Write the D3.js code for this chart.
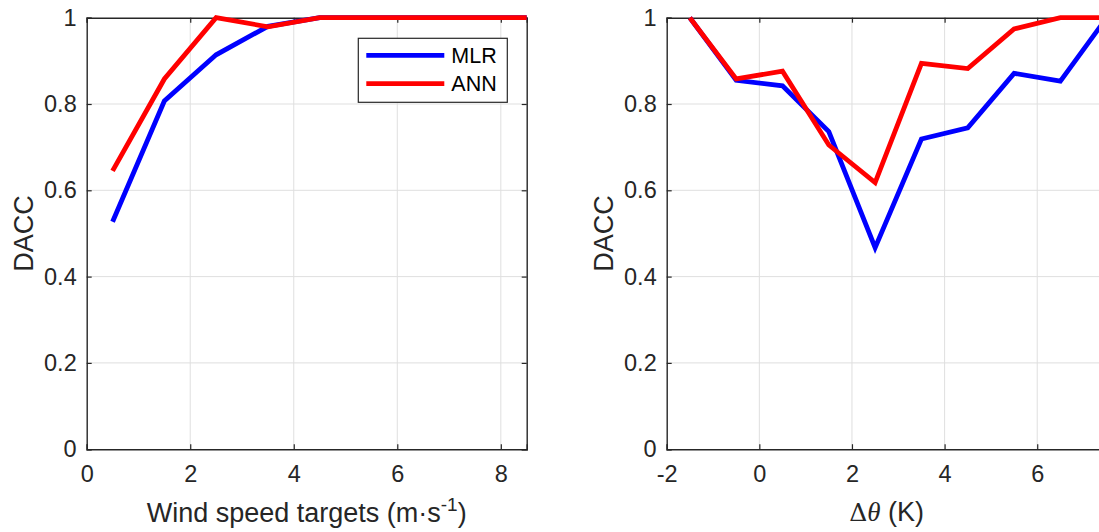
<!DOCTYPE html>
<html>
<head>
<meta charset="utf-8">
<script src="https://cdn.jsdelivr.net/npm/d3@7"></script>
<style>
  html, body { margin: 0; padding: 0; background: #fff; }
  svg { display: block; }
  text { font-family: Arial, "Liberation Sans", Helvetica, sans-serif; fill: #262626; }
</style>
</head>
<body>
<svg id="chart" width="1099" height="532"></svg>
<script>
// ---- Data ----
const windX = [0.5, 1.5, 2.5, 3.5, 4.5, 5.5, 6.5, 7.5, 8.5];
const windMLR = [0.527, 0.807, 0.914, 0.980, 1.0, 1.0, 1.0, 1.0, 1.0];
const windANN = [0.645, 0.858, 1.0, 0.979, 1.0, 1.0, 1.0, 1.0, 1.0];

const thetaX = [-1.5, -0.5, 0.5, 1.5, 2.5, 3.5, 4.5, 5.5, 6.5, 7.5];
const thetaMLR = [1.0, 0.855, 0.842, 0.736, 0.467, 0.719, 0.745, 0.871, 0.853, 1.0];
const thetaANN = [1.0, 0.858, 0.876, 0.705, 0.618, 0.894, 0.882, 0.974, 1.0, 1.0];

const yTicks = [0, 0.2, 0.4, 0.6, 0.8, 1];
const yTickLabels = ["0", "0.2", "0.4", "0.6", "0.8", "1"];
const windTicks = [0, 2, 4, 6, 8];
const thetaTicks = [-2, 0, 2, 4, 6];

const seriesNames = ["MLR", "ANN"];
const seriesColors = ["#0000ff", "#ff0000"];

// ---- Layout ----
const svg = d3.select("#chart");
const plotTop = 17.7, plotBottom = 449.2, panelW = 440;
const axisColor = "#262626", gridColor = "#dfdfdf";
const tickFont = 23.5, labelFont = 27, legendFont = 21.5;

function panel(left, xDomain, xTicks, xs, mlr, ann, xlabelFn, legend) {
  const x = d3.scaleLinear().domain(xDomain).range([left, left + panelW]);
  const y = d3.scaleLinear().domain([0, 1]).range([plotBottom, plotTop]);
  const g = svg.append("g");

  // grid
  g.append("g").selectAll("line").data(xTicks.filter(t => t > xDomain[0])).join("line")
    .attr("x1", d => x(d)).attr("x2", d => x(d)).attr("y1", plotTop).attr("y2", plotBottom)
    .attr("stroke", gridColor).attr("stroke-width", 1);
  g.append("g").selectAll("line").data(yTicks.filter(t => t > 0 && t < 1)).join("line")
    .attr("x1", x.range()[0]).attr("x2", x.range()[1]).attr("y1", d => y(d)).attr("y2", d => y(d))
    .attr("stroke", gridColor).attr("stroke-width", 1);

  // axes via d3 (inward ticks)
  const xAxis = d3.axisBottom(x).tickValues(xTicks).tickSize(-5).tickPadding(16).tickFormat(d => String(d));
  const gx = g.append("g").attr("transform", `translate(0,${plotBottom})`).call(xAxis);
  const yAxis = d3.axisLeft(y).tickValues(yTicks).tickSize(-5).tickPadding(10).tickFormat((d, i) => yTickLabels[i]);
  const gy = g.append("g").attr("transform", `translate(${left},0)`).call(yAxis);
  const xTop = d3.axisTop(x).tickValues(xTicks).tickSize(-5).tickFormat("");
  const gxt = g.append("g").attr("transform", `translate(0,${plotTop})`).call(xTop);
  const yRight = d3.axisRight(y).tickValues(yTicks).tickSize(-5).tickFormat("");
  const gyr = g.append("g").attr("transform", `translate(${left + panelW},0)`).call(yRight);
  [gx, gy, gxt, gyr].forEach(a => {
    a.select(".domain").attr("stroke", axisColor).attr("stroke-width", 1.4);
    a.selectAll(".tick line").attr("stroke", axisColor).attr("stroke-width", 1.2);
    a.selectAll(".tick text").attr("fill", axisColor).style("font-size", tickFont + "px")
      .style("font-family", 'Arial, "Liberation Sans", sans-serif');
  });
  gx.selectAll(".tick text").attr("dy", "0.71em");

  // lines
  const line = d3.line().x(d => x(d[0])).y(d => y(d[1]));
  [mlr, ann].forEach((vals, i) => {
    g.append("path").datum(xs.map((v, j) => [v, vals[j]]))
      .attr("d", line).attr("fill", "none")
      .attr("stroke", seriesColors[i]).attr("stroke-width", 4.8)
      .attr("stroke-linejoin", "miter").attr("stroke-linecap", "butt");
  });

  // y label
  g.append("text")
    .attr("transform", `translate(${left - 54},${(plotTop + plotBottom) / 2}) rotate(-90)`)
    .attr("text-anchor", "middle").style("font-size", labelFont + "px").text("DACC");

  // x label
  xlabelFn(g, left + panelW / 2);

  if (legend) {
    const lx = 358.3, ly = 38.3, lw = 149, lh = 64;
    const lg = g.append("g");
    lg.append("rect").attr("x", lx).attr("y", ly).attr("width", lw).attr("height", lh)
      .attr("fill", "#fff").attr("stroke", axisColor).attr("stroke-width", 1.2);
    seriesNames.forEach((nm, i) => {
      const yy = ly + 17 + i * 28.3;
      lg.append("line").attr("x1", lx + 8).attr("x2", lx + 86).attr("y1", yy).attr("y2", yy)
        .attr("stroke", seriesColors[i]).attr("stroke-width", 4.8);
      lg.append("text").attr("x", lx + 93).attr("y", yy).attr("dy", "0.36em")
        .style("font-size", legendFont + "px").style("fill", "#000").text(nm);
    });
  }
}

panel(86.7, [0, 8.5], windTicks, windX, windMLR, windANN, (g, cx) => {
  const t = g.append("text").attr("x", cx).attr("y", 522).attr("text-anchor", "middle")
    .style("font-size", labelFont + "px");
  t.append("tspan").text("Wind speed targets (m\u00B7s");
  t.append("tspan").attr("dy", -11).style("font-size", "19px").text("-1");
  t.append("tspan").attr("dy", 11).text(")");
}, true);

panel(666.7, [-2, 7.5], thetaTicks, thetaX, thetaMLR, thetaANN, (g, cx) => {
  const t = g.append("text").attr("x", cx).attr("y", 521).attr("text-anchor", "middle")
    .style("font-size", labelFont + "px");
  t.append("tspan").style("font-family", '"DejaVu Serif", "Liberation Serif", serif').style("font-size", "25px").text("\u0394");
  t.append("tspan").style("font-family", '"Liberation Serif", "DejaVu Serif", serif').style("font-style", "italic").text("\u03B8");
  t.append("tspan").text(" (K)");
}, false);
</script>
</body>
</html>
